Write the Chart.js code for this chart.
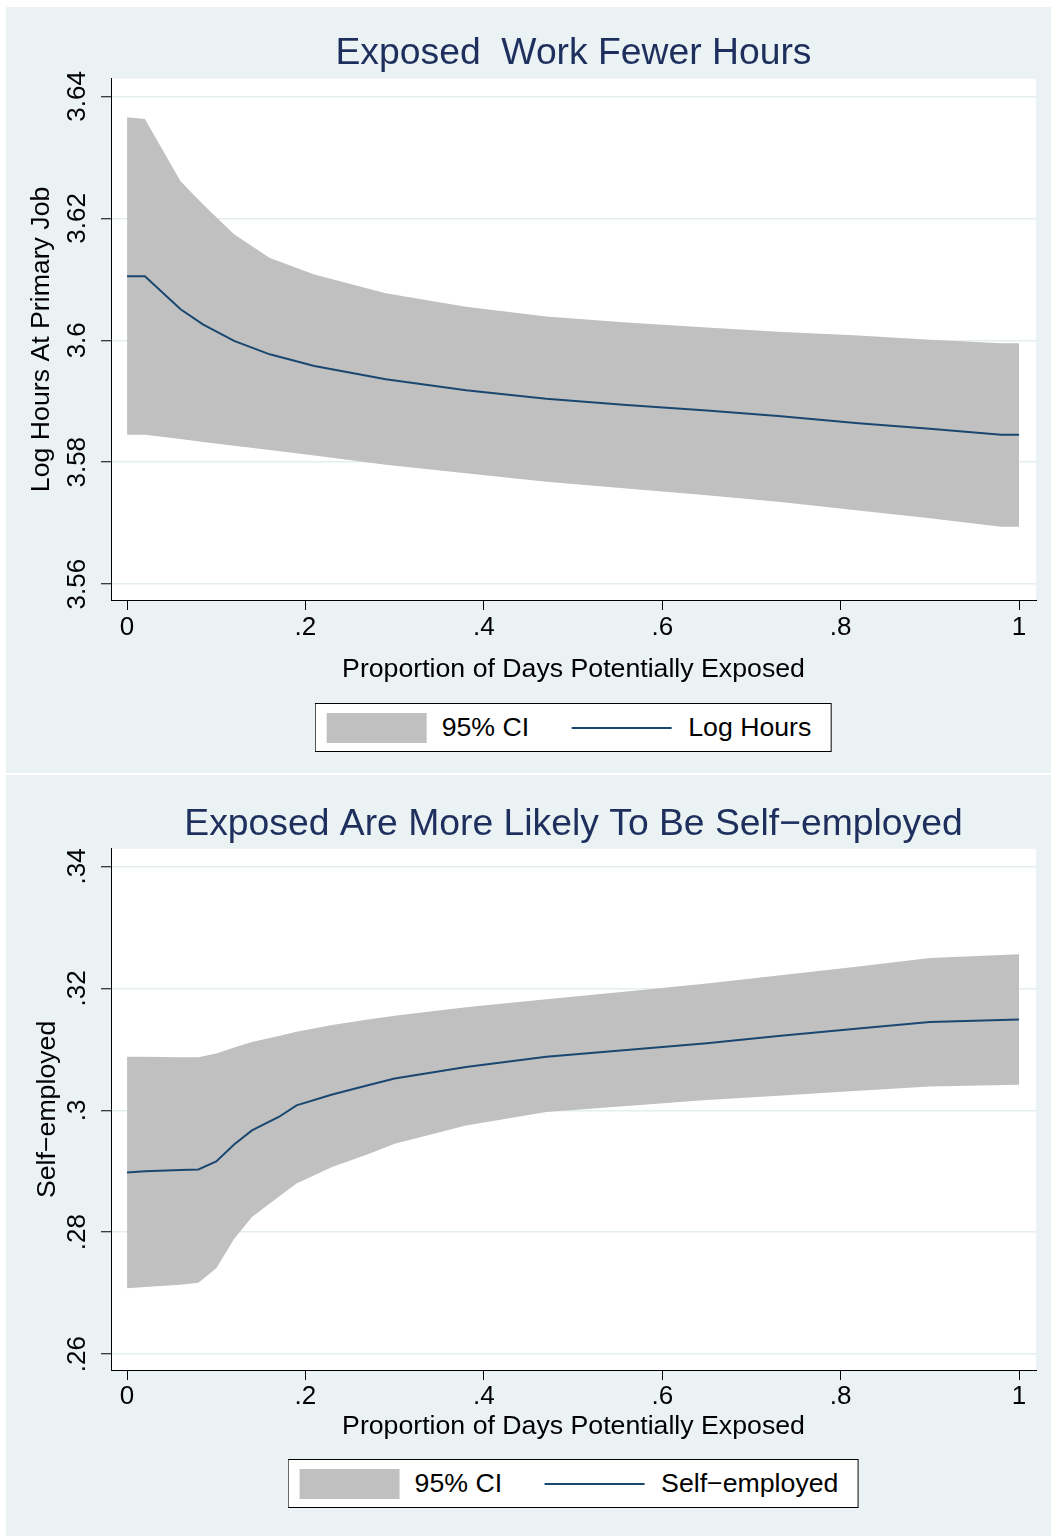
<!DOCTYPE html>
<html>
<head>
<meta charset="utf-8">
<script src="https://cdn.jsdelivr.net/npm/chart.js@4.4.0/dist/chart.umd.min.js"></script>
<style>
    body { margin: 0; background: #fff; width: 1051px; height: 1538px; position: relative; overflow: hidden;
           font-family: "Liberation Sans", Arial, sans-serif; }
    .panel { position: absolute; left: 6px; width: 1045px; background: #eaf2f3; }
    .panel canvas { position: absolute; left: 0; top: 0; }
    .leyenda { position: absolute; left: 567px; transform: translateX(-50%); height: 47px; border: 1px solid #000;
               background: #fff; display: flex; align-items: center; padding: 0 19px 0 11px; font-size: 26.7px;
               white-space: nowrap; color: #000; }
    .muestra { width: 100px; height: 30px; background: #c0c0c0; margin-right: 15px; }
    .linea { width: 100px; height: 2px; background: #1a476f; margin: 0 17px 0 42px; }
</style>
</head>
<body>

<div class="panel" style="top:7px;height:766px">
    <canvas id="graficoHoras" width="1045" height="766"></canvas>
    <div class="leyenda" style="top:696px">
        <div class="muestra"></div><span>95% CI</span><div class="linea"></div><span>Log Hours</span>
    </div>
</div>

<div class="panel" style="top:775px;height:761px">
    <canvas id="graficoAutonomo" width="1045" height="761"></canvas>
    <div class="leyenda" style="top:684px">
        <div class="muestra"></div><span>95% CI</span><div class="linea"></div><span>Self−employed</span>
    </div>
</div>

<script>
    /*      DATOS     */

    // panel 1: log horas
    var xHoras = [0, .02, .06, .085, .12, .16, .21, .29, .38, .47, .56, .65, .73, .82, .90, .98, 1];
    var horasEstimada = [3.6105, 3.6105, 3.6051, 3.6026, 3.5999, 3.5977, 3.5958, 3.5936, 3.5918, 3.5904, 3.5894, 3.5885, 3.5876, 3.5864, 3.5855, 3.5845, 3.5845];
    var horasSuperior = [3.6366, 3.6363, 3.6261, 3.6223, 3.6174, 3.6135, 3.6108, 3.6077, 3.6055, 3.6039, 3.6029, 3.6021, 3.6014, 3.6008, 3.6001, 3.5995, 3.5995];
    var horasInferior = [3.5845, 3.5845, 3.5838, 3.5833, 3.5827, 3.5820, 3.5811, 3.5796, 3.5782, 3.5768, 3.5757, 3.5746, 3.5735, 3.5721, 3.5708, 3.5694, 3.5694];
    var ticksHorasY = [3.56, 3.58, 3.6, 3.62, 3.64];

    // panel 2: autonomos
    var xAutonomo = [0, .02, .06, .08, .10, .12, .14, .17, .19, .23, .27, .30, .38, .47, .56, .65, .73, .82, .90, 1];
    var autonomoEstimada = [.2898, .2900, .2902, .2903, .2916, .2944, .2967, .2989, .3008, .3026, .3041, .3052, .3071, .3088, .3099, .3110, .3122, .3134, .3145, .3149];
    var autonomoSuperior = [.3088, .3088, .3087, .3087, .3093, .3103, .3112, .3122, .3129, .3140, .3149, .3155, .3169, .3182, .3195, .3208, .3221, .3236, .3250, .3256];
    var autonomoInferior = [.2708, .2710, .2714, .2717, .2741, .2789, .2825, .2858, .2880, .2907, .2928, .2945, .2975, .2997, .3007, .3017, .3024, .3032, .3039, .3042];
    var ticksAutonomoY = [.26, .28, .3, .32, .34];

    var ticksX = [0, .2, .4, .6, .8, 1];

    var fuente = "'Liberation Sans', Arial, sans-serif";

    function puntos(xs, ys) {
        return xs.map(function(x, i) { return { x: x, y: ys[i] }; });
    }

    // estilo stata: .2 en vez de 0.2
    function etiqueta(v) {
        var s = String(Math.round(v * 1000) / 1000);
        return s.replace(/^0\./, '.');
    }

    var fondoBlanco = {
        id: 'fondoBlanco',
        beforeDraw: function(chart) {
            var a = chart.chartArea;
            chart.ctx.save();
            chart.ctx.fillStyle = '#ffffff';
            chart.ctx.fillRect(a.left, a.top, a.right - a.left, a.bottom - a.top);
            chart.ctx.restore();
        }
    };

    function crearGrafico(id, p) {
        var ctx = document.getElementById(id).getContext('2d');
        return new Chart(ctx, {
            type: 'line',
            data: {
                datasets: [{
                    label: p.nombre,
                    data: puntos(p.x, p.estimada),
                    borderColor: '#1a476f',
                    borderWidth: 2,
                    pointRadius: 0,
                    tension: 0,
                    fill: false,
                    order: 0
                }, {
                    label: 'inferior',
                    data: puntos(p.x, p.inferior),
                    borderWidth: 0,
                    pointRadius: 0,
                    fill: false,
                    order: 1
                }, {
                    label: '95% CI',
                    data: puntos(p.x, p.superior),
                    borderWidth: 0,
                    pointRadius: 0,
                    backgroundColor: '#c0c0c0',
                    fill: '-1',
                    order: 1
                }]
            },
            options: {
                responsive: false,
                animation: false,
                layout: { padding: { left: 0, right: 15, top: 0, bottom: p.padAbajo } },
                plugins: {
                    legend: { display: false },
                    tooltip: { enabled: false },
                    title: {
                        display: true,
                        text: p.titulo,
                        color: '#1e2f5e',
                        fullSize: false,
                        font: { family: fuente, size: 37.3, weight: 'normal' },
                        padding: { top: p.tituloArriba, bottom: p.tituloAbajo }
                    }
                },
                scales: {
                    x: {
                        type: 'linear',
                        min: -0.018,
                        max: 1.019,
                        afterBuildTicks: function(s) { s.ticks = ticksX.map(function(v) { return { value: v }; }); },
                        afterFit: function(s) { s.height = p.altoX; },
                        ticks: { font: { family: fuente, size: 26 }, color: '#000', padding: p.padTickX,
                                 maxRotation: 0, autoSkip: false, callback: etiqueta },
                        grid: { drawOnChartArea: false, tickLength: 10, tickColor: '#000', tickWidth: 1 },
                        border: { color: '#000', width: 1 },
                        title: { display: true, text: 'Proportion of Days Potentially Exposed', color: '#000',
                                 font: { family: fuente, size: 26.7 }, padding: { top: 0, bottom: 0 } }
                    },
                    y: {
                        min: p.yMin,
                        max: p.yMax,
                        afterBuildTicks: function(s) { s.ticks = p.ticksY.map(function(v) { return { value: v }; }); },
                        afterFit: function(s) { s.width = 105; },
                        ticks: { font: { family: fuente, size: 26 }, color: '#000', padding: p.padTickY,
                                 minRotation: 90, maxRotation: 90, crossAlign: 'center', callback: etiqueta },
                        grid: { color: '#e4edef', lineWidth: 1.5, tickLength: 10, tickColor: '#000', tickWidth: 1 },
                        border: { color: '#000', width: 1 },
                        title: { display: true, text: p.tituloY, color: '#000',
                                 font: { family: fuente, size: 26.7 }, padding: { top: p.padTituloY, bottom: 0 } }
                    }
                }
            },
            plugins: [fondoBlanco]
        });
    }

    crearGrafico('graficoHoras', {
        nombre: 'Log Hours',
        titulo: 'Exposed  Work Fewer Hours',
        tituloY: 'Log Hours At Primary Job',
        x: xHoras, estimada: horasEstimada, superior: horasSuperior, inferior: horasInferior,
        ticksY: ticksHorasY, yMin: 3.5574, yMax: 3.6429,
        tituloArriba: 24, tituloAbajo: 3,
        altoX: 86, padAbajo: 87, padTickX: 2, padTickY: -2, padTituloY: 20
    });

    crearGrafico('graficoAutonomo', {
        nombre: 'Self−employed',
        titulo: 'Exposed Are More Likely To Be Self−employed',
        tituloY: 'Self−employed',
        x: xAutonomo, estimada: autonomoEstimada, superior: autonomoSuperior, inferior: autonomoInferior,
        ticksY: ticksAutonomoY, yMin: .2574, yMax: .3429,
        tituloArriba: 27, tituloAbajo: 2,
        altoX: 73, padAbajo: 93, padTickX: 1, padTickY: 5, padTituloY: 26
    });
</script>
</body>
</html>
